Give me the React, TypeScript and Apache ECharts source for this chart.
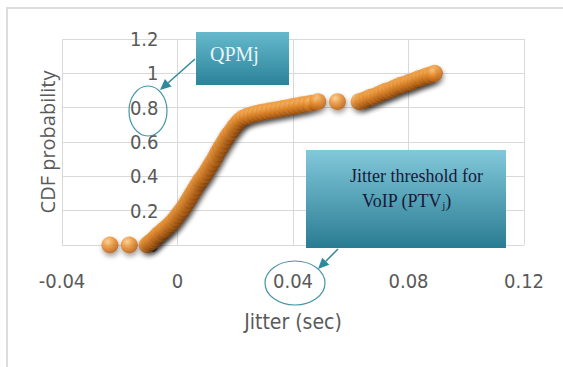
import React, { useEffect, useRef } from "react";
import * as echarts from "echarts";

// ---- data ----
const xTicks = [-0.04, 0, 0.04, 0.08, 0.12];
const yTicks = [0, 0.2, 0.4, 0.6, 0.8, 1, 1.2];

const jitterSec = [
  -0.0234, -0.0167,
  -0.0105, -0.0098, -0.009, -0.0082, -0.0074, -0.0066, -0.0057, -0.0049, -0.004, -0.0031,
  -0.0022, -0.0013, -0.0004, 0.0005, 0.0014, 0.0023, 0.0032, 0.0041, 0.005, 0.0059,
  0.0068, 0.0077, 0.0086, 0.0095, 0.0104, 0.0113, 0.0122, 0.0131, 0.014, 0.0149,
  0.0158, 0.0167, 0.0176, 0.0186, 0.0196, 0.0206, 0.0216,
  0.0228, 0.0241, 0.0255, 0.027, 0.0285, 0.03, 0.0316, 0.0332, 0.0348, 0.0364,
  0.038, 0.0396, 0.0412, 0.0428, 0.0445, 0.0462, 0.0486,
  0.0554,
  0.0629, 0.0642, 0.0655, 0.0668, 0.0681, 0.0694, 0.0707, 0.072, 0.0733, 0.0746,
  0.0759, 0.0772, 0.0785, 0.0798, 0.0811, 0.0824, 0.0837, 0.085, 0.0863, 0.0876, 0.089,
];

const cdfProb = [
  0, 0,
  0, 0.01, 0.02, 0.03, 0.045, 0.06, 0.07, 0.085, 0.095, 0.11,
  0.125, 0.14, 0.16, 0.18, 0.2, 0.22, 0.245, 0.27, 0.295, 0.32,
  0.345, 0.37, 0.39, 0.41, 0.435, 0.46, 0.485, 0.51, 0.54, 0.565,
  0.59, 0.615, 0.64, 0.66, 0.685, 0.705, 0.725,
  0.74, 0.75, 0.757, 0.765, 0.77, 0.775, 0.78, 0.785, 0.79, 0.795,
  0.8, 0.805, 0.81, 0.815, 0.82, 0.825, 0.835,
  0.835,
  0.835, 0.84, 0.85, 0.86, 0.865, 0.875, 0.885, 0.895, 0.9, 0.91,
  0.92, 0.93, 0.935, 0.945, 0.95, 0.96, 0.97, 0.975, 0.985, 0.99, 1.0,
];

const xAxisTitle = "Jitter (sec)";
const yAxisTitle = "CDF probability";
const noteQpm = "QPMj";
const noteThresholdLine1 = "Jitter threshold for";
const noteThresholdLine2 = "VoIP (PTV{sub|j})";

const TEAL = "#2f8a9c";
const LABEL_FONT = "'Liberation Sans Narrow', 'Arial Narrow', 'DejaVu Sans Condensed', sans-serif";

const GRID_LEFT = 62;
const GRID_RIGHT = 39;
const CHART_W = 563;

function arrow(x1: number, y1: number, x2: number, y2: number) {
  const dx = x2 - x1;
  const dy = y2 - y1;
  const len = Math.sqrt(dx * dx + dy * dy);
  const ux = dx / len;
  const uy = dy / len;
  const hl = 11;
  const hw = 5;
  const bx = x2 - ux * hl;
  const by = y2 - uy * hl;
  const nx = -uy;
  const ny = ux;
  return [
    {
      type: "line",
      shape: { x1, y1, x2: bx, y2: by },
      style: { stroke: TEAL, lineWidth: 1.5 },
      z: 100,
    },
    {
      type: "polygon",
      shape: {
        points: [
          [x2, y2],
          [bx + nx * hw, by + ny * hw],
          [bx - nx * hw, by - ny * hw],
        ],
      },
      style: { fill: TEAL },
      z: 100,
    },
  ];
}

export default function App() {
  const ref = useRef<HTMLDivElement>(null);

  useEffect(() => {
    if (!ref.current) return;
    const chart = echarts.init(ref.current, undefined, { renderer: "svg" });
    const data = jitterSec.map((x, i) => [x, cdfProb[i]]);

    const xMin = xTicks[0];
    const xMax = xTicks[xTicks.length - 1];
    const gridW = CHART_W - GRID_LEFT - GRID_RIGHT;
    // y axis crosses the x axis at 0 (as in the reference)
    const yAxisOffset = -gridW * ((0 - xMin) / (xMax - xMin));

    const boxGrad = (a: string, b: string) =>
      new echarts.graphic.LinearGradient(0, 0, 0, 1, [
        { offset: 0, color: a },
        { offset: 1, color: b },
      ]);

    chart.setOption({
      animation: false,
      backgroundColor: "#ffffff",
      grid: { left: GRID_LEFT, right: GRID_RIGHT, top: 39, bottom: 122, containLabel: false, outerBoundsMode: "none" },
      xAxis: {
        type: "value",
        min: xMin,
        max: xMax,
        interval: 0.04,
        name: xAxisTitle,
        nameLocation: "middle",
        nameGap: 66,
        nameTextStyle: { fontSize: 21, color: "#595959", fontFamily: LABEL_FONT },
        axisLine: { show: false, onZero: false },
        axisTick: { show: false },
        axisLabel: {
          fontSize: 20,
          color: "#595959",
          fontFamily: LABEL_FONT,
          margin: 26,
          formatter: (v: number) => String(parseFloat(v.toFixed(2))),
        },
        splitLine: { show: true, lineStyle: { color: "#d9d9d9", width: 1 } },
      },
      yAxis: {
        type: "value",
        position: "left",
        offset: yAxisOffset,
        min: yTicks[0],
        max: yTicks[yTicks.length - 1],
        interval: 0.2,
        name: yAxisTitle,
        nameLocation: "middle",
        nameGap: 120,
        nameRotate: 90,
        nameTextStyle: { fontSize: 20, color: "#595959", fontFamily: "'Open Sans', sans-serif" },
        axisLine: { show: false, onZero: false },
        axisTick: { show: false },
        axisLabel: {
          fontSize: 20,
          color: "#595959",
          fontFamily: LABEL_FONT,
          margin: 19,
          formatter: (v: number) => String(parseFloat(v.toFixed(1))),
        },
        splitLine: { show: true, lineStyle: { color: "#d9d9d9", width: 1 } },
      },
      series: [
        {
          type: "scatter",
          data,
          symbol: "circle",
          symbolSize: 17,
          itemStyle: {
            color: new echarts.graphic.RadialGradient(0.38, 0.32, 0.7, [
              { offset: 0, color: "#ffcf8a" },
              { offset: 0.45, color: "#f0922e" },
              { offset: 1, color: "#b55d14" },
            ]),
            shadowColor: "rgba(0,0,0,0.45)",
            shadowBlur: 5,
            shadowOffsetX: 1,
            shadowOffsetY: 3,
          },
          z: 5,
        },
      ],
      graphic: [
        {
          type: "polyline",
          shape: { points: [[7, 367], [7, 8], [563, 8]] },
          style: { stroke: "#dcdcdc", lineWidth: 2, fill: "none" },
          z: 1,
        },
        // QPMj box
        {
          type: "rect",
          shape: { x: 196, y: 32, width: 93, height: 53 },
          style: { fill: boxGrad("#66b9cd", "#2b8399") },
          z: 100,
        },
        {
          type: "text",
          x: 210,
          y: 54,
          style: {
            text: noteQpm,
            fontSize: 20,
            fontFamily: "'Liberation Serif', 'DejaVu Serif', serif",
            fill: "#eaf6f9",
            align: "left",
            verticalAlign: "middle",
          },
          z: 101,
        },
        ...arrow(195, 59, 160, 90),
        {
          type: "ellipse",
          shape: { cx: 148, cy: 111, rx: 19, ry: 25 },
          style: { fill: "none", stroke: "#4596a6", lineWidth: 1.2 },
          z: 100,
        },
        // Jitter threshold box
        {
          type: "rect",
          shape: { x: 306, y: 150, width: 200, height: 98 },
          style: { fill: boxGrad("#82c8da", "#2a7c92") },
          z: 100,
        },
        {
          type: "text",
          x: 350,
          y: 176,
          style: {
            text: noteThresholdLine1,
            fontSize: 18,
            fontFamily: "'Liberation Serif', 'DejaVu Serif', serif",
            fill: "#161a3a",
            align: "left",
            verticalAlign: "middle",
          },
          z: 101,
        },
        {
          type: "text",
          x: 362,
          y: 201,
          style: {
            text: noteThresholdLine2,
            fontSize: 18,
            fontFamily: "'Liberation Serif', 'DejaVu Serif', serif",
            fill: "#161a3a",
            align: "left",
            verticalAlign: "middle",
            rich: {
              sub: {
                fontSize: 11,
                lineHeight: 11,
                verticalAlign: "bottom",
                fontFamily: "'Liberation Serif', 'DejaVu Serif', serif",
                fill: "#161a3a",
              },
            },
          },
          z: 101,
        },
        ...arrow(338, 249, 318, 269),
        {
          type: "ellipse",
          shape: { cx: 295, cy: 283, rx: 30, ry: 22 },
          style: { fill: "none", stroke: "#4596a6", lineWidth: 1.2 },
          z: 100,
        },
      ],
    });
    return () => chart.dispose();
  }, []);

  return (
    <div
      ref={ref}
      style={{ position: "fixed", left: 0, top: 0, width: 563, height: 367 }}
    />
  );
}
